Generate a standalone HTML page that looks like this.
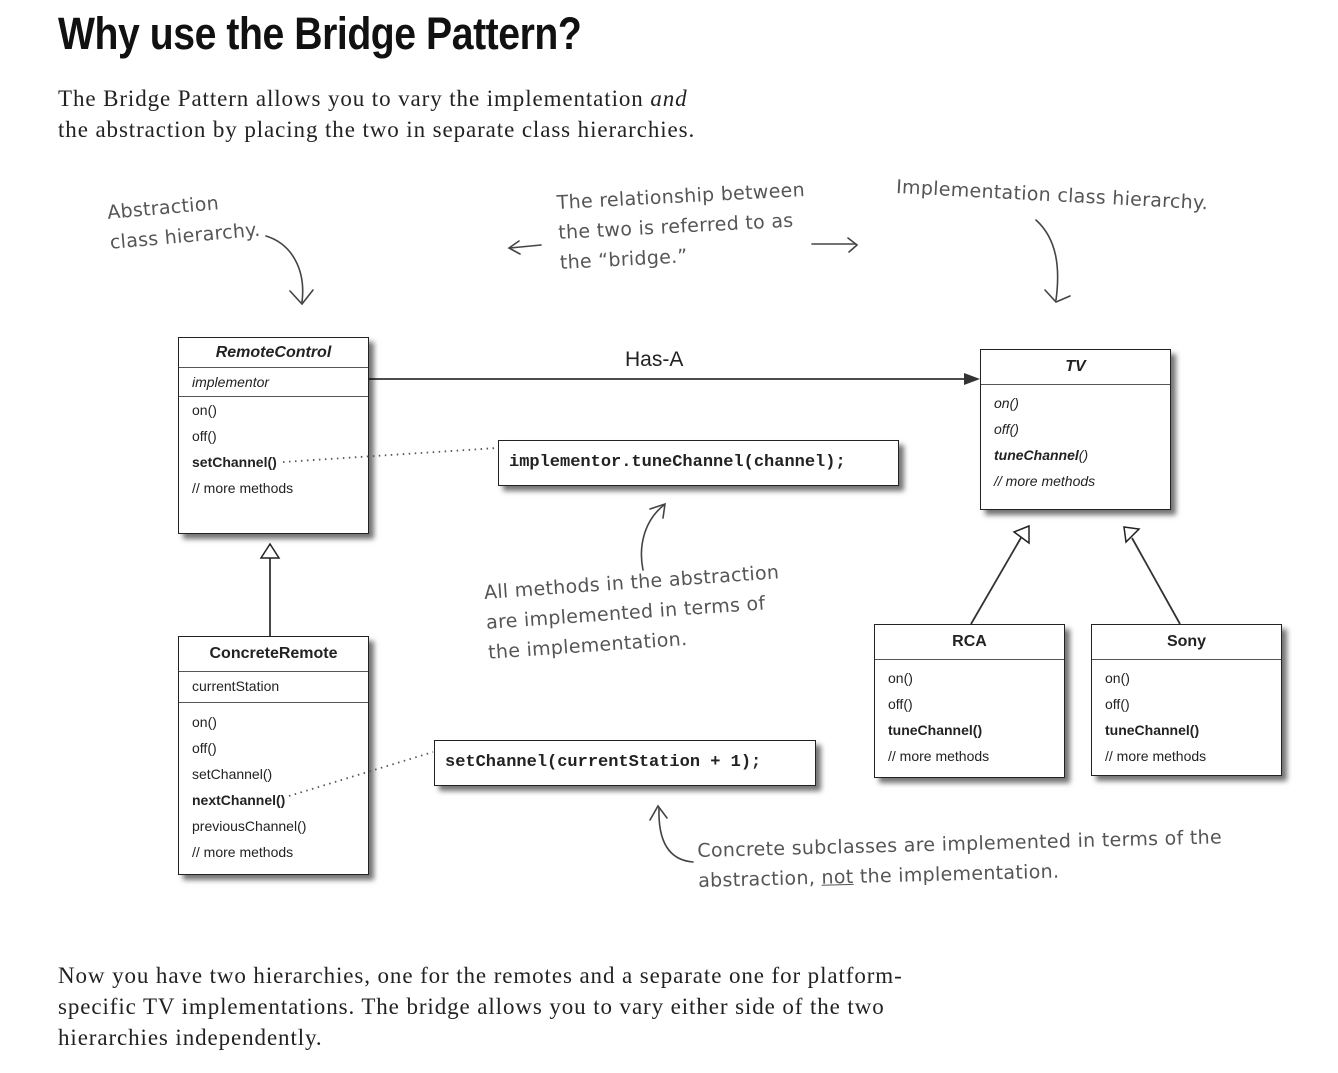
<!DOCTYPE html>
<html><head><meta charset="utf-8"><style>
body{margin:0;width:1338px;height:1073px;background:#fff;position:relative;overflow:hidden;font-family:"Liberation Sans",sans-serif}
.a{position:absolute;white-space:nowrap}
.ser{font-family:"Liberation Serif",serif;font-size:23px;color:#222;line-height:31px;letter-spacing:0.9px}
.hw{font-family:"DejaVu Sans",sans-serif;font-size:19px;color:#555;line-height:30px;letter-spacing:0.3px}
.box{position:absolute;border:1.5px solid #222;background:#fff;box-shadow:5px 5px 5px rgba(0,0,0,.55);box-sizing:border-box;font-size:14px;color:#222}
.hd{border-bottom:1.2px solid #555;text-align:center;font-weight:bold;font-size:16px}
.sec{border-bottom:1.2px solid #555;padding-left:13px}
.m{padding-left:13px;line-height:26px}
.code{position:absolute;border:1.5px solid #222;background:#fff;box-shadow:5px 5px 5px rgba(0,0,0,.55);box-sizing:border-box;font-family:"Liberation Mono",monospace;font-weight:bold;font-size:17px;color:#222;padding-left:10px}
</style></head><body>
<div class="a" style="left:58px;top:8px;font-size:45px;font-weight:bold;color:#111;letter-spacing:-0.5px;transform:scaleX(0.87);transform-origin:left top">Why use the Bridge Pattern?</div>
<div class="a ser" style="left:58px;top:83px">The Bridge Pattern allows you to vary the implementation <i>and</i><br>the abstraction by placing the two in separate class hierarchies.</div>

<div class="a hw" style="left:106px;top:198px;transform:rotate(-5deg);transform-origin:left top">Abstraction<br>class hierarchy.</div>
<div class="a hw" style="left:556px;top:188px;transform:rotate(-3deg);transform-origin:left top">The relationship between<br>the two is referred to as<br>the “bridge.”</div>
<div class="a hw" style="left:897px;top:172px;transform:rotate(3deg);transform-origin:left top">Implementation class hierarchy.</div>
<div class="a hw" style="left:483px;top:578px;transform:rotate(-4deg);transform-origin:left top">All methods in the abstraction<br>are implemented in terms of<br>the implementation.</div>
<div class="a hw" style="left:697px;top:836px;transform:rotate(-1.5deg);transform-origin:left top">Concrete subclasses are implemented in terms of the<br>abstraction, <u>not</u> the implementation.</div>

<svg class="a" style="left:0;top:0" width="1338" height="1073">
<g fill="none" stroke="#444" stroke-width="1.6" stroke-linecap="round">
<path d="M266 236 C292 244 306 270 302 302"/><path d="M290 291 L302 304 L313 290"/>
<path d="M1036 220 C1058 240 1060 270 1056 300"/><path d="M1045 290 L1056 302 L1070 296"/>
<path d="M541 245 L510 248"/><path d="M519 241 L509 248 L520 254"/>
<path d="M812 244 L856 244"/><path d="M848 238 L857 245 L849 252"/>
<path d="M643 570 C638 545 645 520 664 505"/><path d="M650 509 L665 504 L663 518"/>
<path d="M693 862 C668 860 658 840 659 808"/><path d="M650 820 L658 806 L667 818"/>
</g>
<g stroke="#333" stroke-width="1.8" fill="none">
<line x1="369" y1="379" x2="970" y2="379"/>
<line x1="270" y1="636" x2="270" y2="558"/>
<line x1="971" y1="624" x2="1022" y2="536"/>
<line x1="1180" y1="624" x2="1132" y2="538"/>
</g>
<polygon points="980,379 964,373 964,385" fill="#333"/>
<polygon points="270,544 261,558 279,558" fill="#fff" stroke="#222" stroke-width="1.5"/>
<polygon points="1029,526 1014,532 1029,543" fill="#fff" stroke="#222" stroke-width="1.5"/>
<polygon points="1124,527 1139,529 1126,542" fill="#fff" stroke="#222" stroke-width="1.5"/>
</svg>
<div class="a" style="left:625px;top:348px;font-size:21px;color:#222">Has-A</div>

<div class="box" style="left:178px;top:337px;width:191px;height:197px">
<div class="hd" style="height:29px;line-height:29px;font-style:italic">RemoteControl</div>
<div class="sec" style="height:28px;line-height:28px;font-style:italic">implementor</div>
<div class="m" style="padding-top:0">on()<br>off()<br><b>setChannel()</b><br>// more methods</div>
</div>

<div class="box" style="left:178px;top:636px;width:191px;height:239px">
<div class="hd" style="height:34px;line-height:34px">ConcreteRemote</div>
<div class="sec" style="height:30px;line-height:28px">currentStation</div>
<div class="m" style="padding-top:6px">on()<br>off()<br>setChannel()<br><b>nextChannel()</b><br>previousChannel()<br>// more methods</div>
</div>

<div class="box" style="left:980px;top:349px;width:191px;height:161px">
<div class="hd" style="height:34px;line-height:34px;font-style:italic">TV</div>
<div class="m" style="padding-top:5px;font-style:italic">on()<br>off()<br><b>tuneChannel</b>()<br>// more methods</div>
</div>

<div class="box" style="left:874px;top:624px;width:191px;height:154px">
<div class="hd" style="height:34px;line-height:34px">RCA</div>
<div class="m" style="padding-top:5px">on()<br>off()<br><b>tuneChannel()</b><br>// more methods</div>
</div>

<div class="box" style="left:1091px;top:624px;width:191px;height:152px">
<div class="hd" style="height:34px;line-height:34px">Sony</div>
<div class="m" style="padding-top:5px">on()<br>off()<br><b>tuneChannel()</b><br>// more methods</div>
</div>

<div class="code" style="left:498px;top:440px;width:401px;height:46px;line-height:43px">implementor.tuneChannel(channel);</div>
<div class="code" style="left:434px;top:740px;width:382px;height:46px;line-height:43px">setChannel(currentStation + 1);</div>

<svg class="a" style="left:0;top:0" width="1338" height="1073">
<g stroke="#555" stroke-width="1.8" stroke-dasharray="1.5 4.5" fill="none">
<line x1="283" y1="462" x2="497" y2="448"/>
<line x1="289" y1="796" x2="433" y2="752"/>
</g>
</svg>

<div class="a ser" style="left:58px;top:960px">Now you have two hierarchies, one for the remotes and a separate one for platform-<br>specific TV implementations. The bridge allows you to vary either side of the two<br>hierarchies independently.</div>
</body></html>
